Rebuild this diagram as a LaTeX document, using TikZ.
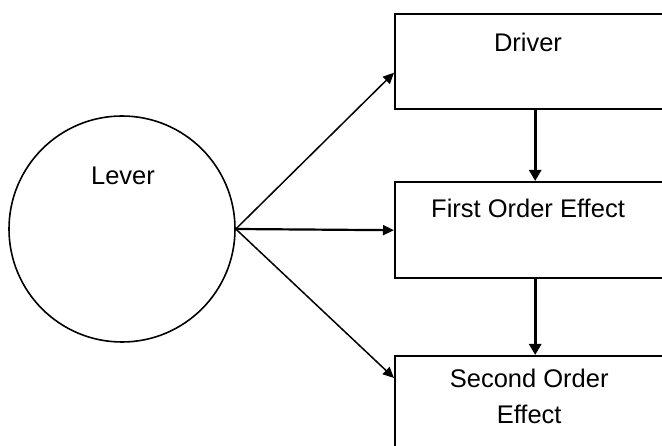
\documentclass[tikz,border=0pt]{standalone}
\usepackage{fontspec}
\setmainfont{Liberation Sans}
\usepackage{tikz}
\usetikzlibrary{shapes.geometric, arrows.meta, positioning}
\tikzstyle{leverball} = [circle, minimum size=226pt, inner sep=0pt, draw=black, line width=1.6pt]
\tikzstyle{effectbox} = [rectangle, minimum width=280pt, inner sep=0pt, draw=black, line width=2.4pt, anchor=north west]
\tikzstyle{txt} = [font=\fontsize{25.5}{36}\selectfont, align=center]
\tikzstyle{arrow} = [line width=1.5pt, -{Triangle[length=11pt,width=10pt]}]
\tikzstyle{downarrow} = [line width=3pt, -{Triangle[length=11pt,width=12pt]}]

\begin{document}
\begin{tikzpicture}[x=1pt, y=1pt]
			\clip (0,0) rectangle (662,-446);
			
			\node (lever) [leverball] at (122,-229) {};
			\node (lever_txt) [txt] at (123,-176) {Lever};
			
			\node (driver) [effectbox, minimum height=95pt] at (394,-13) {};
			\node (driver_txt) [txt] at (528,-42) {Driver};
			
			\node (first) [effectbox, minimum height=96pt] at (394,-181) {};
			\node (first_txt) [txt] at (528,-208) {First Order Effect};
			
			\node (second) [effectbox, minimum height=100pt] at (394,-355) {};
			\node (second_txt) [txt, below=10pt of second.north, xshift=-6pt] {Second Order\\Effect};
			
			
			\draw [arrow] (lever.east) -- ([yshift=-11pt]driver.west);
			\draw [arrow, line width=2.2pt] (lever.east) -- (first.west);
			\draw [arrow] (lever.east) -- ([yshift=-23pt]second.north west);
			\draw [downarrow] (driver.south) -- (first.north);
			\draw [downarrow] (first.south) -- (second.north);
			
		\end{tikzpicture}
\end{document}
